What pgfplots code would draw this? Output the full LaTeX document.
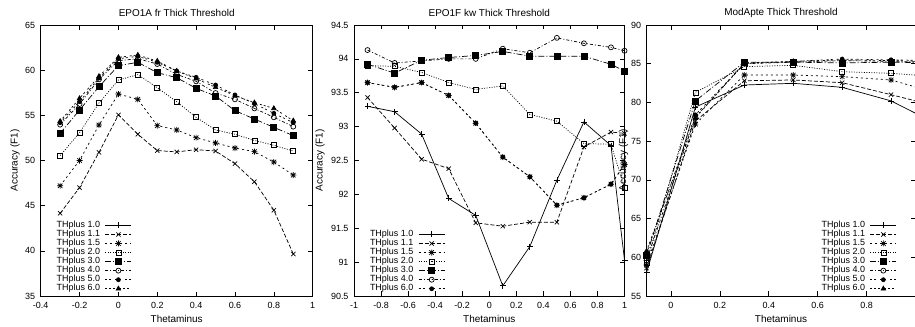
\documentclass[border=0pt]{standalone}
\usepackage{fontspec}
\setmainfont{Liberation Sans}
\usepackage{pgfplots}
\usepackage{pgfplotstable}
\pgfplotsset{compat=1.18}

\pgfdeclareplotmark{gpstar}{%
  \pgfpathmoveto{\pgfqpoint{-\pgfplotmarksize}{0pt}}%
  \pgfpathlineto{\pgfqpoint{\pgfplotmarksize}{0pt}}%
  \pgfpathmoveto{\pgfqpoint{0pt}{-\pgfplotmarksize}}%
  \pgfpathlineto{\pgfqpoint{0pt}{\pgfplotmarksize}}%
  \pgfpathmoveto{\pgfqpoint{-0.75\pgfplotmarksize}{-0.75\pgfplotmarksize}}%
  \pgfpathlineto{\pgfqpoint{0.75\pgfplotmarksize}{0.75\pgfplotmarksize}}%
  \pgfpathmoveto{\pgfqpoint{-0.75\pgfplotmarksize}{0.75\pgfplotmarksize}}%
  \pgfpathlineto{\pgfqpoint{0.75\pgfplotmarksize}{-0.75\pgfplotmarksize}}%
  \pgfusepathqstroke}

\pgfplotstableread{
x     a11    a15    a20    a30    a40    a50    a60
-0.3  44.15  47.20  50.54  53.00  53.97  54.19  54.34
-0.2  47.00  50.00  53.08  55.59  56.25  56.51  56.88
-0.1  50.90  53.93  56.37  58.17  58.98  59.13  59.32
0.0   55.05  57.36  58.91  60.50  61.05  61.27  61.42
0.1   52.90  56.77  59.50  60.87  61.27  61.53  61.68
0.2   51.10  53.86  58.06  59.72  60.68  60.87  61.01
0.3   50.95  53.38  56.51  59.17  59.54  59.91  59.91
0.4   51.20  52.53  54.78  57.99  58.76  59.21  59.06
0.5   51.05  51.94  53.38  57.14  57.47  58.36  58.10
0.6   49.65  51.38  52.90  55.52  56.77  57.25  57.18
0.7   47.65  50.98  52.23  54.59  55.77  56.29  56.40
0.8   44.50  49.83  51.68  53.67  54.78  55.22  55.77
0.9   39.65  48.39  51.05  52.75  53.75  54.19  54.41
}\tA

\pgfplotstableread{
x     a10    a11    a15    a20    a30    a40    a60
-0.9  93.30  93.43  93.65  93.90  93.92  94.13  93.65
-0.7  93.22  92.98  93.58  93.89  93.79  93.94  93.58
-0.5  92.89  92.52  93.65  93.80  93.98  93.97  93.65
-0.3  91.94  92.38  93.46  93.65  94.02  94.00  93.46
-0.1  91.69  91.58  93.05  93.55  94.05  94.00  93.05
0.1   90.65  91.53  92.55  93.60  94.11  94.15  92.55
0.3   91.23  91.59  92.26  93.18  94.04  94.09  92.26
0.5   92.21  91.59  91.84  93.08  94.04  94.31  91.84
0.7   93.07  92.70  91.95  92.75  94.04  94.23  91.95
0.9   92.72  92.92  92.15  92.74  93.92  94.17  92.15
1.0   91.03  92.90  92.44  92.10  93.82  94.12  92.44
}\tB

\pgfplotstableread{
x     a10    a11    a15    a20    a30    a40    a50    a60
-0.1  58.00  58.60  59.00  59.30  60.20  59.60  60.50  60.80
0.1   79.40  77.60  77.20  81.30  80.20  78.10  78.40  78.00
0.3   82.25  82.80  83.54  84.62  85.20  85.00  85.00  85.10
0.5   82.47  82.90  83.54  84.79  85.20  85.20  85.30  85.30
0.7   81.95  82.55  83.33  83.97  85.10  85.40  85.60  85.50
0.9   80.20  81.00  82.90  83.76  85.20  85.30  85.50  85.40
1.1   77.00  79.40  81.10  83.30  85.10  85.30  85.40  85.30
}\tC

\pgfplotsset{
  s10/.style={black, solid, mark=+, mark size=3bp, mark options={solid}},
  s11/.style={black, dash pattern=on 4bp off 2bp, mark=x, mark size=3bp, mark options={solid}},
  s15/.style={black, dash pattern=on 2bp off 3bp, mark=gpstar, mark size=3bp, mark options={solid}},
  s20/.style={black, dash pattern=on 1bp off 1.5bp, mark=square, mark size=2.5bp, mark options={solid}},
  s30/.style={black, dash pattern=on 6bp off 2bp on 1bp off 2bp, mark=square*, mark size=3bp, mark options={solid}},
  s40/.style={black, dash pattern=on 3bp off 2bp on 1bp off 2bp, mark=o, mark size=2.5bp, mark options={solid}},
  s50/.style={black, dash pattern=on 2bp off 2bp on 2bp off 4bp, mark=*, mark size=2bp, mark options={solid}},
  s60/.style={black, dash pattern=on 2bp off 2bp on 2bp off 2bp on 2bp off 4bp, mark=triangle*, mark size=2.6bp, mark options={solid}},
  gp/.style={
    scale only axis,
    height=271bp,
    tick align=inside,
    major tick length=4.5bp,
    axis line style={line width=0.7bp},
    every tick/.style={black, line width=0.6bp},
    /pgf/number format/assume math mode=true,
    tick label style={font=\fontsize{9}{10}\selectfont},
    label style={font=\fontsize{9}{10}\selectfont},
    title style={font=\fontsize{9}{10}\selectfont},
    every axis title/.style={at={(axis description cs:0.5,1)}, anchor=center, yshift=12.3bp},
    every axis x label/.style={at={(axis description cs:0.5,0)}, anchor=center, yshift=-22.7bp},
    every axis y label/.style={anchor=center, rotate=90},
    xticklabel style={anchor=north, yshift=-3bp},
    yticklabel style={anchor=east, xshift=-2bp},
    xlabel=Thetaminus,
    ylabel={Accuracy (F1)},
    legend cell align=left,
    legend plot pos=right,
    legend style={draw=none, fill=none, inner sep=0pt, outer sep=0pt,
      font=\fontsize{9}{10}\selectfont, row sep=0pt, column sep=5bp,
      nodes={inner sep=0pt, text height=6.6bp, text depth=2.46bp}},
    legend image code/.code={
      \draw[mark repeat=2,mark phase=2,#1] plot coordinates {(0bp,0bp) (13bp,0bp) (26bp,0bp)};
    },
    every axis plot/.append style={line width=0.7bp},
  },
}

\begin{document}
\begin{tikzpicture}
% Panel 1
\begin{axis}[gp, at={(40.7bp,31bp)}, anchor=south west, width=272bp,
  xmin=-0.4, xmax=1, ymin=35, ymax=65,
  xtick={-0.4,-0.2,0,0.2,0.4,0.6,0.8,1},
  xticklabels={-0.4,-0.2,0,0.2,0.4,0.6,0.8,1},
  ytick={35,40,45,50,55,60,65},
  title={EPO1A fr Thick Threshold},
  ylabel style={at={(axis description cs:-0.0945,0.5)}},
  legend style={at={(axis description cs:0,0)}, anchor=south west, xshift=16bp, yshift=2.7bp}]
\addlegendimage{s10}\addlegendentry{THplus 1.0}
\addplot[s11] table[x=x,y=a11]{\tA}; \addlegendentry{THplus 1.1}
\addplot[s15] table[x=x,y=a15]{\tA}; \addlegendentry{THplus 1.5}
\addplot[s20] table[x=x,y=a20]{\tA}; \addlegendentry{THplus 2.0}
\addplot[s30] table[x=x,y=a30]{\tA}; \addlegendentry{THplus 3.0}
\addplot[s40] table[x=x,y=a40]{\tA}; \addlegendentry{THplus 4.0}
\addplot[s50] table[x=x,y=a50]{\tA}; \addlegendentry{THplus 5.0}
\addplot[s60] table[x=x,y=a60]{\tA}; \addlegendentry{THplus 6.0}
\end{axis}
% Panel 2
\begin{axis}[gp, at={(354bp,31bp)}, anchor=south west, width=270.5bp,
  xmin=-1, xmax=1, ymin=90.5, ymax=94.5,
  xtick={-1,-0.8,-0.6,-0.4,-0.2,0,0.2,0.4,0.6,0.8,1},
  xticklabels={-1,-0.8,-0.6,-0.4,-0.2,0,0.2,0.4,0.6,0.8,1},
  ytick={90.5,91,91.5,92,92.5,93,93.5,94,94.5},
  yticklabels={90.5,91,91.5,92,92.5,93,93.5,94,94.5},
  title={EPO1F kw Thick Threshold},
  ylabel style={at={(axis description cs:-0.1257,0.5)}},
  legend style={at={(axis description cs:0,0)}, anchor=south west, xshift=16bp, yshift=2.7bp}]
\addplot[s10] table[x=x,y=a10]{\tB}; \addlegendentry{THplus 1.0}
\addplot[s11] table[x=x,y=a11]{\tB}; \addlegendentry{THplus 1.1}
\addplot[s15] table[x=x,y=a15]{\tB}; \addlegendentry{THplus 1.5}
\addplot[s20] table[x=x,y=a20]{\tB}; \addlegendentry{THplus 2.0}
\addplot[s30] table[x=x,y=a30]{\tB}; \addlegendentry{THplus 3.0}
\addplot[s40] table[x=x,y=a40]{\tB}; \addlegendentry{THplus 4.0}
\addplot[s50] table[x=x,y=a60]{\tB}; \addlegendentry{THplus 6.0}
\end{axis}
% Panel 3
\begin{axis}[gp, at={(646.5bp,31bp)}, anchor=south west, width=269bp,
  xmin=-0.1, xmax=1, ymin=55, ymax=90,
  xtick={0,0.2,0.4,0.6,0.8},
  xticklabels={0,0.2,0.4,0.6,0.8},
  ytick={55,60,65,70,75,80,85,90},
  title={ModApte Thick Threshold},
  ylabel style={at={(axis description cs:-0.0855,0.5)}},
  legend style={at={(axis description cs:1,0)}, anchor=south east, xshift=-18.8bp, yshift=2.7bp}]
\addplot[s10] table[x=x,y=a10]{\tC}; \addlegendentry{THplus 1.0}
\addplot[s11] table[x=x,y=a11]{\tC}; \addlegendentry{THplus 1.1}
\addplot[s15] table[x=x,y=a15]{\tC}; \addlegendentry{THplus 1.5}
\addplot[s20] table[x=x,y=a20]{\tC}; \addlegendentry{THplus 2.0}
\addplot[s30] table[x=x,y=a30]{\tC}; \addlegendentry{THplus 3.0}
\addplot[s40] table[x=x,y=a40]{\tC}; \addlegendentry{THplus 4.0}
\addplot[s50] table[x=x,y=a50]{\tC}; \addlegendentry{THplus 5.0}
\addplot[s60] table[x=x,y=a60]{\tC}; \addlegendentry{THplus 6.0}
\end{axis}
\pgfresetboundingbox
\useasboundingbox (0,0) rectangle (915bp,327bp);
\end{tikzpicture}
\end{document}
